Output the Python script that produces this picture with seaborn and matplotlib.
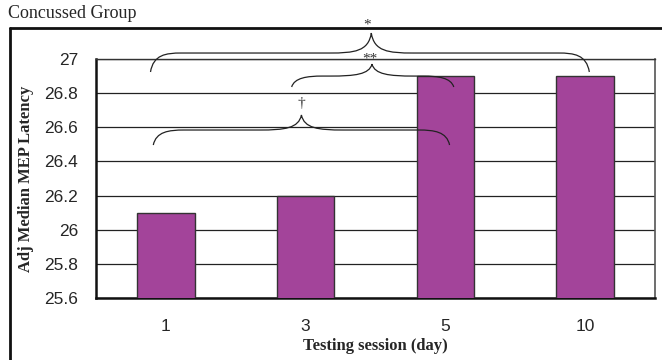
import matplotlib
matplotlib.use("Agg")
import matplotlib.pyplot as plt
from matplotlib.path import Path
from matplotlib.patches import PathPatch
import seaborn as sns
import pandas as pd

# data
days = ["1", "3", "5", "10"]
latency = [26.1, 26.2, 26.9, 26.9]
y_ticks = [25.6, 25.8, 26.0, 26.2, 26.4, 26.6, 26.8, 27.0]

# significance braces: (x start, x end, x of peak, y of ends, y of line, y of peak, label, label x, label y)
braces = [
    (-0.11, 3.03, 1.47, 26.924, 27.035, 27.152, "*", 1.44, 27.197),
    (0.90, 2.06, 1.475, 26.836, 26.900, 26.970, "**", 1.46, 27.0),
    (-0.09, 2.03, 0.97, 26.496, 26.584, 26.672, "\u2020", 0.97, 26.742),
]


def draw_brace(ax, x0, x1, xm, y_end, y_line, y_peak, dx=0.22, dm=0.3):
    # left end curls up to the line, line runs to the middle, cusp at the peak
    verts = [
        (x0, y_end), (x0 + 0.02, y_line - 0.01), (x0 + dx * 0.5, y_line), (x0 + dx, y_line),
        (xm - dm, y_line),
        (xm - dm * 0.4, y_line), (xm - 0.02, y_line + 0.01), (xm, y_peak),
        (xm + 0.02, y_line + 0.01), (xm + dm * 0.4, y_line), (xm + dm, y_line),
        (x1 - dx, y_line),
        (x1 - dx * 0.5, y_line), (x1 - 0.02, y_line - 0.01), (x1, y_end),
    ]
    codes = [Path.MOVETO, Path.CURVE4, Path.CURVE4, Path.CURVE4,
             Path.LINETO,
             Path.CURVE4, Path.CURVE4, Path.CURVE4,
             Path.CURVE4, Path.CURVE4, Path.CURVE4,
             Path.LINETO,
             Path.CURVE4, Path.CURVE4, Path.CURVE4]
    patch = PathPatch(Path(verts, codes), facecolor="none", edgecolor="#222222",
                      lw=0.9, clip_on=False, zorder=5)
    ax.add_patch(patch)


df = pd.DataFrame({"day": days, "latency": latency})

sns.set_style("white")
plt.rcParams["font.family"] = ["Liberation Sans", "DejaVu Sans"]

fig = plt.figure(figsize=(6.62, 3.6), dpi=100)
ax = fig.add_axes([96 / 662, 62 / 360, 559 / 662, 239 / 360])

sns.barplot(data=df, x="day", y="latency", color="#A3449A", saturation=1,
            width=0.41, edgecolor="#333333", linewidth=1.0, ax=ax, zorder=3)

ax.set_ylim(25.6, 27.0)
ax.set_xlim(-0.5, 3.5)
ax.set_yticks(y_ticks)
ax.set_yticklabels(["25.6", "25.8", "26", "26.2", "26.4", "26.6", "26.8", "27"])
ax.yaxis.grid(True, color="#222222", lw=0.9, zorder=0)
ax.set_axisbelow(True)

# x ticks sit on the category boundaries, labels in between
ax.set_xticks([-0.5, 0.5, 1.5, 2.5, 3.5])
ax.set_xticklabels([])
ax.set_xticks([0, 1, 2, 3], minor=True)
ax.set_xticklabels(days, minor=True)
ax.tick_params(axis="x", which="major", direction="out", length=5, width=1, color="#333333")
ax.tick_params(axis="x", which="minor", length=0, pad=15, labelsize=12.5)
ax.tick_params(axis="y", direction="out", length=5, width=1, color="#333333", pad=8, labelsize=12.5)

for side in ["left", "bottom"]:
    ax.spines[side].set_linewidth(1.8)
    ax.spines[side].set_color("#111111")
ax.spines["right"].set_color("#555555")
ax.spines["right"].set_linewidth(1.2)
ax.spines["top"].set_color("#333333")
ax.spines["top"].set_linewidth(1.0)

ax.set_xlabel("Testing session (day)", family="Liberation Serif", fontweight="bold",
              fontsize=12, labelpad=3)
ax.set_ylabel("Adj Median MEP Latency", family="Liberation Serif", fontweight="bold",
              fontsize=12, labelpad=7)

for x0, x1, xm, y_end, y_line, y_peak, label, label_x, label_y in braces:
    draw_brace(ax, x0, x1, xm, y_end, y_line, y_peak)
    ax.text(label_x, label_y, label, ha="center", va="center",
            fontsize=11, family="Liberation Serif", color="#333333", clip_on=False, zorder=6)

# outer frame and caption
fig.add_artist(plt.Line2D([9.5 / 662, 9.5 / 662], [0, 1 - 28 / 360], color="#111111", lw=2))
fig.add_artist(plt.Line2D([9.5 / 662, 1], [1 - 28 / 360, 1 - 28 / 360], color="#111111", lw=2))
fig.text(8 / 662, 1 - 14 / 360, "Concussed Group", family="Liberation Serif",
         fontsize=13, va="center", ha="left")

fig.savefig("out.png", dpi=100)
